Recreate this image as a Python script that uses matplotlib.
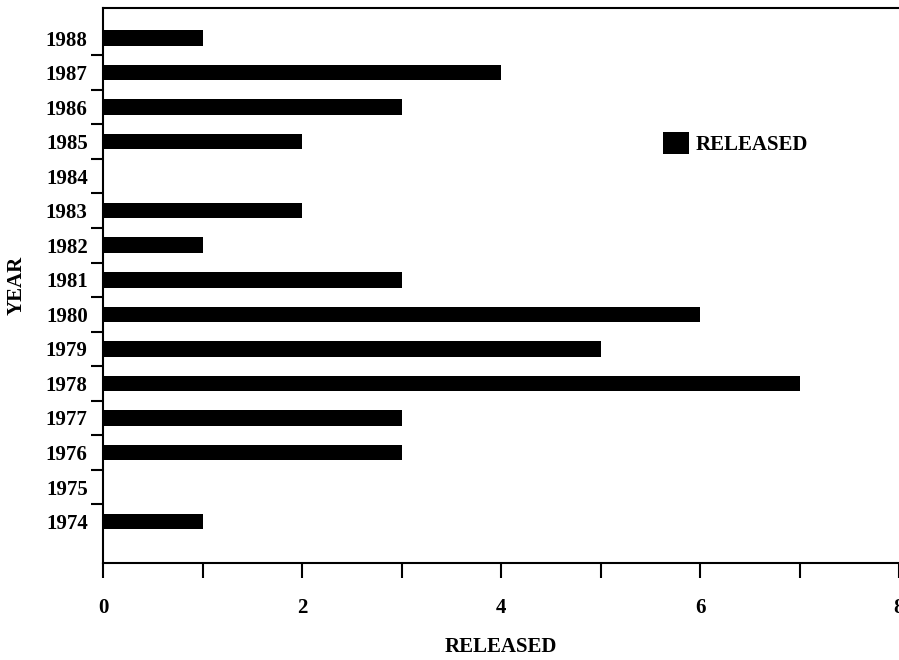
import matplotlib.pyplot as plt
import numpy as np

# Data
years = [1974, 1975, 1976, 1977, 1978, 1979, 1980, 1981,
         1982, 1983, 1984, 1985, 1986, 1987, 1988]
released = [1, 0, 3, 3, 7, 5, 6, 3, 1, 2, 0, 2, 3, 4, 1]
x_ticks = [0, 2, 4, 6, 8]

plt.rcParams['font.family'] = ['Liberation Serif', 'DejaVu Serif']

fig = plt.figure(figsize=(8.99, 6.6), dpi=100)
ax = fig.add_axes([103 / 899, 1 - 563 / 660, 1 - 103 / 899, (563 - 8) / 660])

pos = np.arange(len(years))
ax.barh(pos, released, height=0.45, color='black', label='RELEASED')

ax.set_xlim(0, 8)
ax.set_ylim(-1.2, len(years) - 1 + 0.87)

# x ticks: labels every 2, marks every 1
ax.set_xticks(x_ticks)
ax.set_xticklabels([str(t) for t in x_ticks], fontsize=15, fontweight='bold')
ax.set_xticks(np.arange(1, 8, 2), minor=True)
ax.tick_params(axis='x', which='both', direction='out', length=11, width=1.5, pad=14)

# y ticks: labels at centres, marks between categories
ax.set_yticks(pos)
ax.set_yticklabels([str(y) for y in years], fontsize=15, fontweight='bold')
ax.set_yticks(pos[:-1] + 0.5, minor=True)
ax.tick_params(axis='y', which='major', length=0, pad=11)
ax.tick_params(axis='y', which='minor', direction='out', length=9, width=1.5)

ax.spines['right'].set_visible(False)
for s in ['left', 'bottom', 'top']:
    ax.spines[s].set_linewidth(1.5)

ax.set_xlabel('RELEASED', fontsize=15, fontweight='bold', labelpad=14)
ax.set_ylabel('YEAR', fontsize=15, fontweight='bold', labelpad=14)

ax.legend(loc='upper left', bbox_to_anchor=(0.68, 0.81), frameon=False,
          handlelength=1.25, handleheight=1.25, handletextpad=0.3,
          prop={'size': 15, 'weight': 'bold'})

fig.savefig('out.png', dpi=100)
